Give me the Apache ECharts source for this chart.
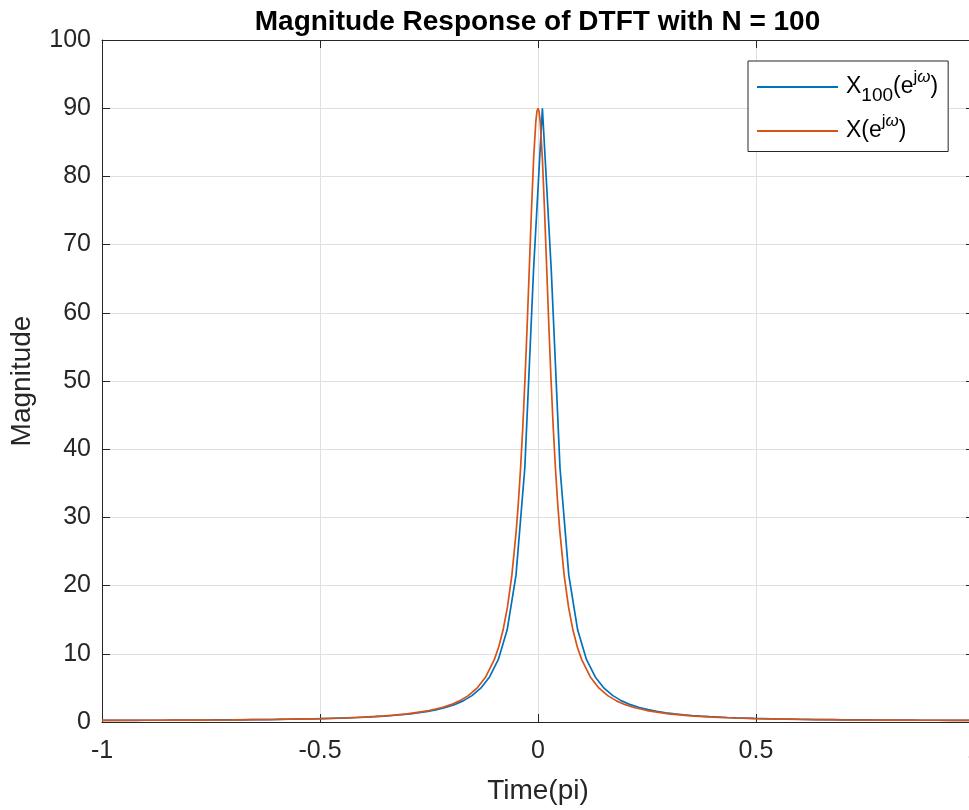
<!DOCTYPE html>
<html>
<head>
<meta charset="utf-8">
<script src="https://cdn.jsdelivr.net/npm/echarts@6/dist/echarts.min.js"></script>
<style>
html,body{margin:0;padding:0;overflow:hidden;background:#fff;width:969px;height:810px;}
#chart{width:1075px;height:810px;}
</style>
</head>
<body>
<div id="chart"></div>
<script>
// ---- data ----
const titleText = 'Magnitude Response of DTFT with N = 100';
const xName = 'Time(pi)';
const yName = 'Magnitude';
const seriesNames = ['X100(e^jω)', 'X(e^jω)'];

// X_100 (DFT samples, 100 points)
const blueX = [-1,-0.9798,-0.9596,-0.9394,-0.9192,-0.8990,-0.8788,-0.8586,-0.8384,-0.8182,-0.7980,-0.7778,-0.7576,-0.7374,-0.7172,-0.6970,-0.6768,-0.6566,-0.6364,-0.6162,-0.5960,-0.5758,-0.5556,-0.5354,-0.5152,-0.4949,-0.4747,-0.4545,-0.4343,-0.4141,-0.3939,-0.3737,-0.3535,-0.3333,-0.3131,-0.2929,-0.2727,-0.2525,-0.2323,-0.2121,-0.1919,-0.1717,-0.1515,-0.1313,-0.1111,-0.0909,-0.0707,-0.0505,-0.0303,-0.0101,0.0101,0.0303,0.0505,0.0707,0.0909,0.1111,0.1313,0.1515,0.1717,0.1919,0.2121,0.2323,0.2525,0.2727,0.2929,0.3131,0.3333,0.3535,0.3737,0.3939,0.4141,0.4343,0.4545,0.4747,0.4949,0.5152,0.5354,0.5556,0.5758,0.5960,0.6162,0.6364,0.6566,0.6768,0.6970,0.7172,0.7374,0.7576,0.7778,0.7980,0.8182,0.8384,0.8586,0.8788,0.8990,0.9192,0.9394,0.9596,0.9798,1];
const blueY = [0.25,0.25,0.25,0.25,0.25,0.26,0.26,0.26,0.27,0.27,0.28,0.28,0.29,0.30,0.30,0.31,0.32,0.34,0.35,0.36,0.38,0.40,0.42,0.44,0.47,0.50,0.53,0.57,0.61,0.66,0.72,0.78,0.86,0.95,1.06,1.20,1.36,1.56,1.81,2.13,2.54,3.10,3.87,4.96,6.60,9.17,13.52,21.49,37.20,66.42,90,66.42,37.20,21.49,13.52,9.17,6.60,4.96,3.87,3.10,2.54,2.13,1.81,1.56,1.36,1.20,1.06,0.95,0.86,0.78,0.72,0.66,0.61,0.57,0.53,0.50,0.47,0.44,0.42,0.40,0.38,0.36,0.35,0.34,0.32,0.31,0.30,0.30,0.29,0.28,0.28,0.27,0.27,0.26,0.26,0.26,0.25,0.25,0.25,0.25];

// X(e^jw) continuous curve
const orangeX = [-1,-0.9,-0.8,-0.7,-0.6,-0.5,-0.45,-0.4,-0.35,-0.3,-0.25,-0.22,-0.2,-0.18,-0.16,-0.14,-0.12,-0.1,-0.09,-0.08,-0.07,-0.06,-0.05,-0.045,-0.04,-0.035,-0.03,-0.025,-0.02,-0.015,-0.01,-0.005,-0.0025,0,0.0025,0.005,0.01,0.015,0.02,0.025,0.03,0.035,0.04,0.045,0.05,0.06,0.07,0.08,0.09,0.1,0.12,0.14,0.16,0.18,0.2,0.22,0.25,0.3,0.35,0.4,0.45,0.5,0.6,0.7,0.8,0.9,1];
const orangeY = [0.25,0.26,0.28,0.31,0.38,0.50,0.59,0.72,0.91,1.20,1.68,2.13,2.54,3.10,3.87,4.96,6.60,9.18,11.04,13.52,16.87,21.49,27.99,32.19,37.20,43.12,50.03,57.88,66.42,75.01,82.66,88.04,89.50,90,89.50,88.04,82.66,75.01,66.42,57.88,50.03,43.12,37.20,32.19,27.99,21.49,16.87,13.52,11.04,9.18,6.60,4.96,3.87,3.10,2.54,2.13,1.68,1.20,0.91,0.72,0.59,0.50,0.38,0.31,0.28,0.26,0.25];

// ---- chart ----
const FONT = 'Liberation Sans, Arial, Helvetica, sans-serif';
const AX = '#262626';
const chart = echarts.init(document.getElementById('chart'), null, {renderer: 'canvas'});

const axisCommon = {
  axisLine: {show: true, onZero: false, lineStyle: {color: AX, width: 1}},
  axisTick: {show: true, inside: true, length: 8, lineStyle: {color: AX, width: 1}},
};

chart.setOption({
  animation: false,
  backgroundColor: '#fff',
  title: {
    text: titleText, left: 'center', top: 8, padding: 0,
    textStyle: {fontFamily: FONT, fontSize: 28, fontWeight: 'bold', color: '#000'}
  },
  grid: {left: 101, right: 101, top: 40, bottom: 86, containLabel: false},
  legend: {
    left: 748, top: 61, orient: 'vertical',
    itemWidth: 81, itemHeight: 2, itemGap: 8,
    padding: [8, 10, 9, 9],
    backgroundColor: '#fff', borderColor: AX, borderWidth: 1, borderRadius: 0,
    data: [{name: seriesNames[0], icon: 'rect'}, {name: seriesNames[1], icon: 'rect'}],
    formatter: function (name) {
      if (name === seriesNames[0]) return '{a|X}{b|100}{a|(e}{c|j}{d|ω}{a|)}';
      return '{a|X(e}{c|j}{d|ω}{a|)}';
    },
    textStyle: {
      fontFamily: FONT, color: '#000', padding: [0, 0, 0, 3],
      rich: {
        a: {fontFamily: FONT, fontSize: 23, lineHeight: 36, color: '#000'},
        b: {fontFamily: FONT, fontSize: 19, lineHeight: 17, verticalAlign: 'bottom', color: '#000'},
        c: {fontFamily: FONT, fontSize: 17, lineHeight: 20, verticalAlign: 'top', color: '#000'},
        d: {fontFamily: FONT, fontSize: 17, fontStyle: 'italic', lineHeight: 20, verticalAlign: 'top', color: '#000'}
      }
    }
  },
  xAxis: [
    Object.assign({
      type: 'value', min: -1, max: 1, interval: 0.5, position: 'bottom',
      name: xName, nameLocation: 'middle', nameGap: 55,
      nameTextStyle: {fontFamily: FONT, fontSize: 28, color: AX},
      axisLabel: {fontFamily: FONT, fontSize: 25, color: AX, margin: 17, showMaxLabel: true, showMinLabel: true},
      splitLine: {show: true, lineStyle: {color: '#dfdfdf', width: 1}}
    }, axisCommon),
    Object.assign({
      type: 'value', min: -1, max: 1, interval: 0.5, position: 'top',
      axisLabel: {show: false}, splitLine: {show: false}
    }, axisCommon)
  ],
  yAxis: [
    Object.assign({
      type: 'value', min: 0, max: 100, interval: 10, position: 'left',
      name: yName, nameLocation: 'middle', nameGap: 66, nameRotate: 90,
      nameTextStyle: {fontFamily: FONT, fontSize: 28, color: AX},
      axisLabel: {fontFamily: FONT, fontSize: 25, color: AX, margin: 11},
      splitLine: {show: true, lineStyle: {color: '#dfdfdf', width: 1}}
    }, axisCommon),
    Object.assign({
      type: 'value', min: 0, max: 100, interval: 10, position: 'right',
      axisLabel: {show: false}, splitLine: {show: false}
    }, axisCommon)
  ],
  series: [
    {
      name: seriesNames[0], type: 'line', xAxisIndex: 0, yAxisIndex: 0,
      showSymbol: false, symbol: 'none', color: '#0072BD',
      lineStyle: {color: '#0072BD', width: 1.7},
      data: blueX.map((x, i) => [x, blueY[i]])
    },
    {
      name: seriesNames[1], type: 'line', xAxisIndex: 0, yAxisIndex: 0,
      showSymbol: false, symbol: 'none', color: '#D95319',
      lineStyle: {color: '#D95319', width: 1.7},
      data: orangeX.map((x, i) => [x, orangeY[i]])
    }
  ]
});
</script>
</body>
</html>
